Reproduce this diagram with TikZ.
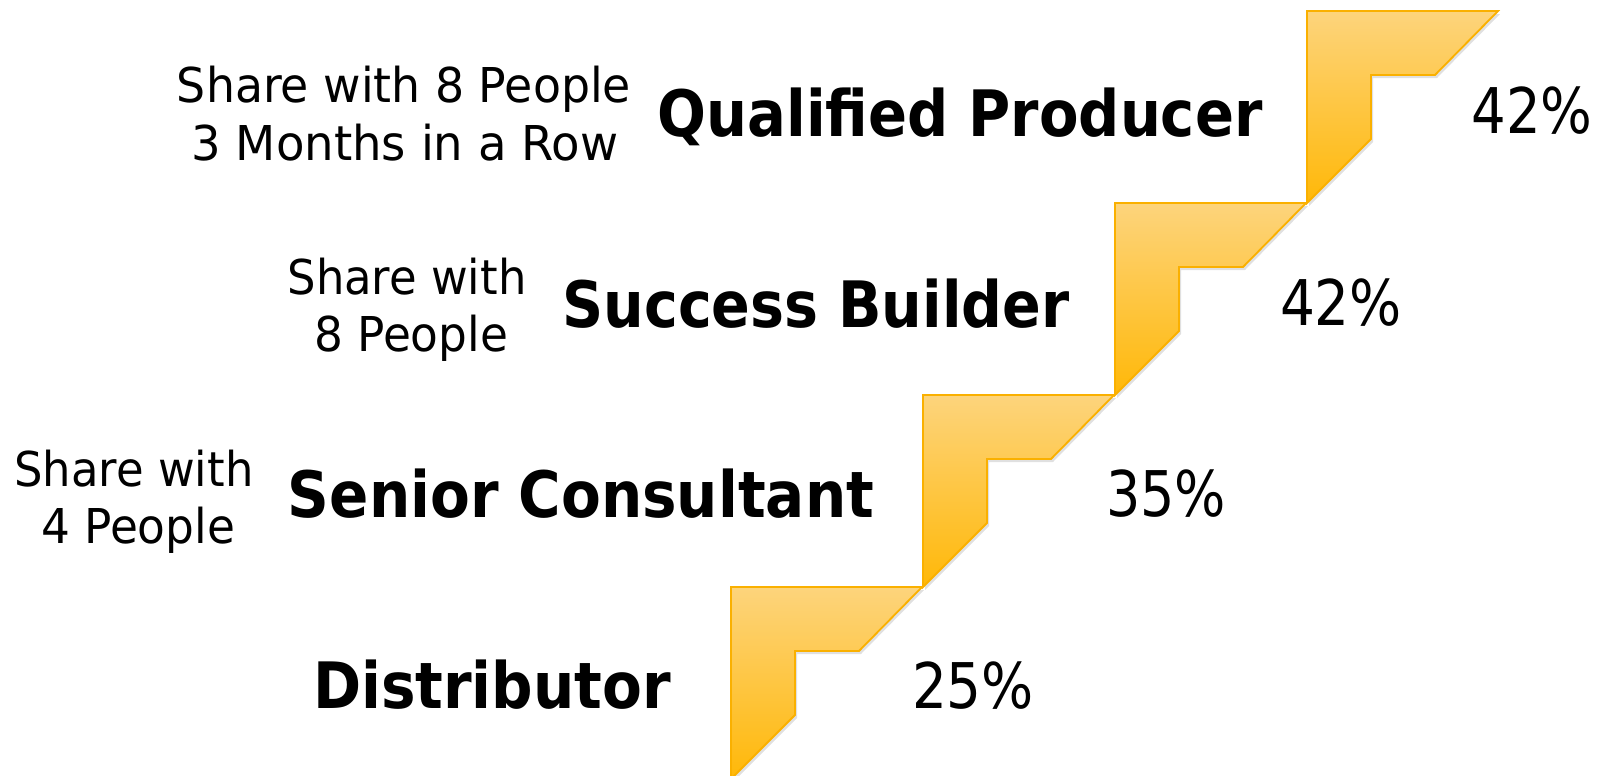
\documentclass[tikz,border=0pt]{standalone}
\usepackage{fontspec}
\setmainfont{DejaVu Sans}
\usepackage{graphicx}
\newcommand\fitw[2]{\resizebox{#1pt}{\height}{#2}}
\definecolor{stairline}{RGB}{250,176,0}
\definecolor{stairtop}{RGB}{253,212,124}
\definecolor{stairbot}{RGB}{255,184,8}
\begin{document}
\begin{tikzpicture}[x=0.5pt,y=-0.5pt,
  stair/.style={draw=stairline, line width=0.9pt, line join=miter, top color=stairtop, bottom color=stairbot},
  stairshadow/.style={fill=black, opacity=0.12},
  title/.style={font=\fontsize{32}{38}\selectfont\bfseries, anchor=base, inner sep=0pt},
  pct/.style={font=\fontsize{31.5}{38}\selectfont, anchor=base, inner sep=0pt},
  note/.style={font=\fontsize{24}{29}\selectfont, anchor=base, inner sep=0pt}]
\useasboundingbox (0,0) rectangle (1602,776);
\begin{scope}
\clip (0,0) rectangle (1602,776);
\foreach \k in {0,...,3}{
  \fill[stairshadow, shift={(733+192*\k,590-192*\k)}] (0,0) -- ++(191,0) -- ++(-63,64) -- ++(-64,0) -- ++(0,64) -- ++(-64,64) -- cycle;
  \draw[stair, shift={(731+192*\k,587-192*\k)}] (0,0) -- ++(191,0) -- ++(-63,64) -- ++(-64,0) -- ++(0,64) -- ++(-64,64) -- cycle;
}
\end{scope}
\node[title] (qp) at (960,136) {\fitw{302.5}{Qualified Producer}};
\node[pct] (p4) at (1532,133) {\fitw{60.5}{42\%}};
\node[note] (n4a) at (404,102) {\fitw{227}{Share with 8 People}};
\node[note] (n4b) at (405,160) {\fitw{213.5}{3 Months in a Row}};
\node[title] (sb) at (816,327) {\fitw{253.5}{Success Builder}};
\node[pct] (p3) at (1341,325) {\fitw{61}{42\%}};
\node[note] (n3a) at (407,294) {\fitw{119.5}{Share with}};
\node[note] (n3b) at (411,351) {\fitw{97}{8 People}};
\node[title] (sc) at (581,517) {\fitw{293}{Senior Consultant}};
\node[pct] (p2) at (1166,516) {\fitw{60}{35\%}};
\node[note] (n2a) at (134,486) {\fitw{119.5}{Share with}};
\node[note] (n2b) at (138,543) {\fitw{97}{4 People}};
\node[title] (d) at (492,708) {\fitw{179}{Distributor}};
\node[pct] (p1) at (973,708) {\fitw{61}{25\%}};
\end{tikzpicture}
\end{document}
